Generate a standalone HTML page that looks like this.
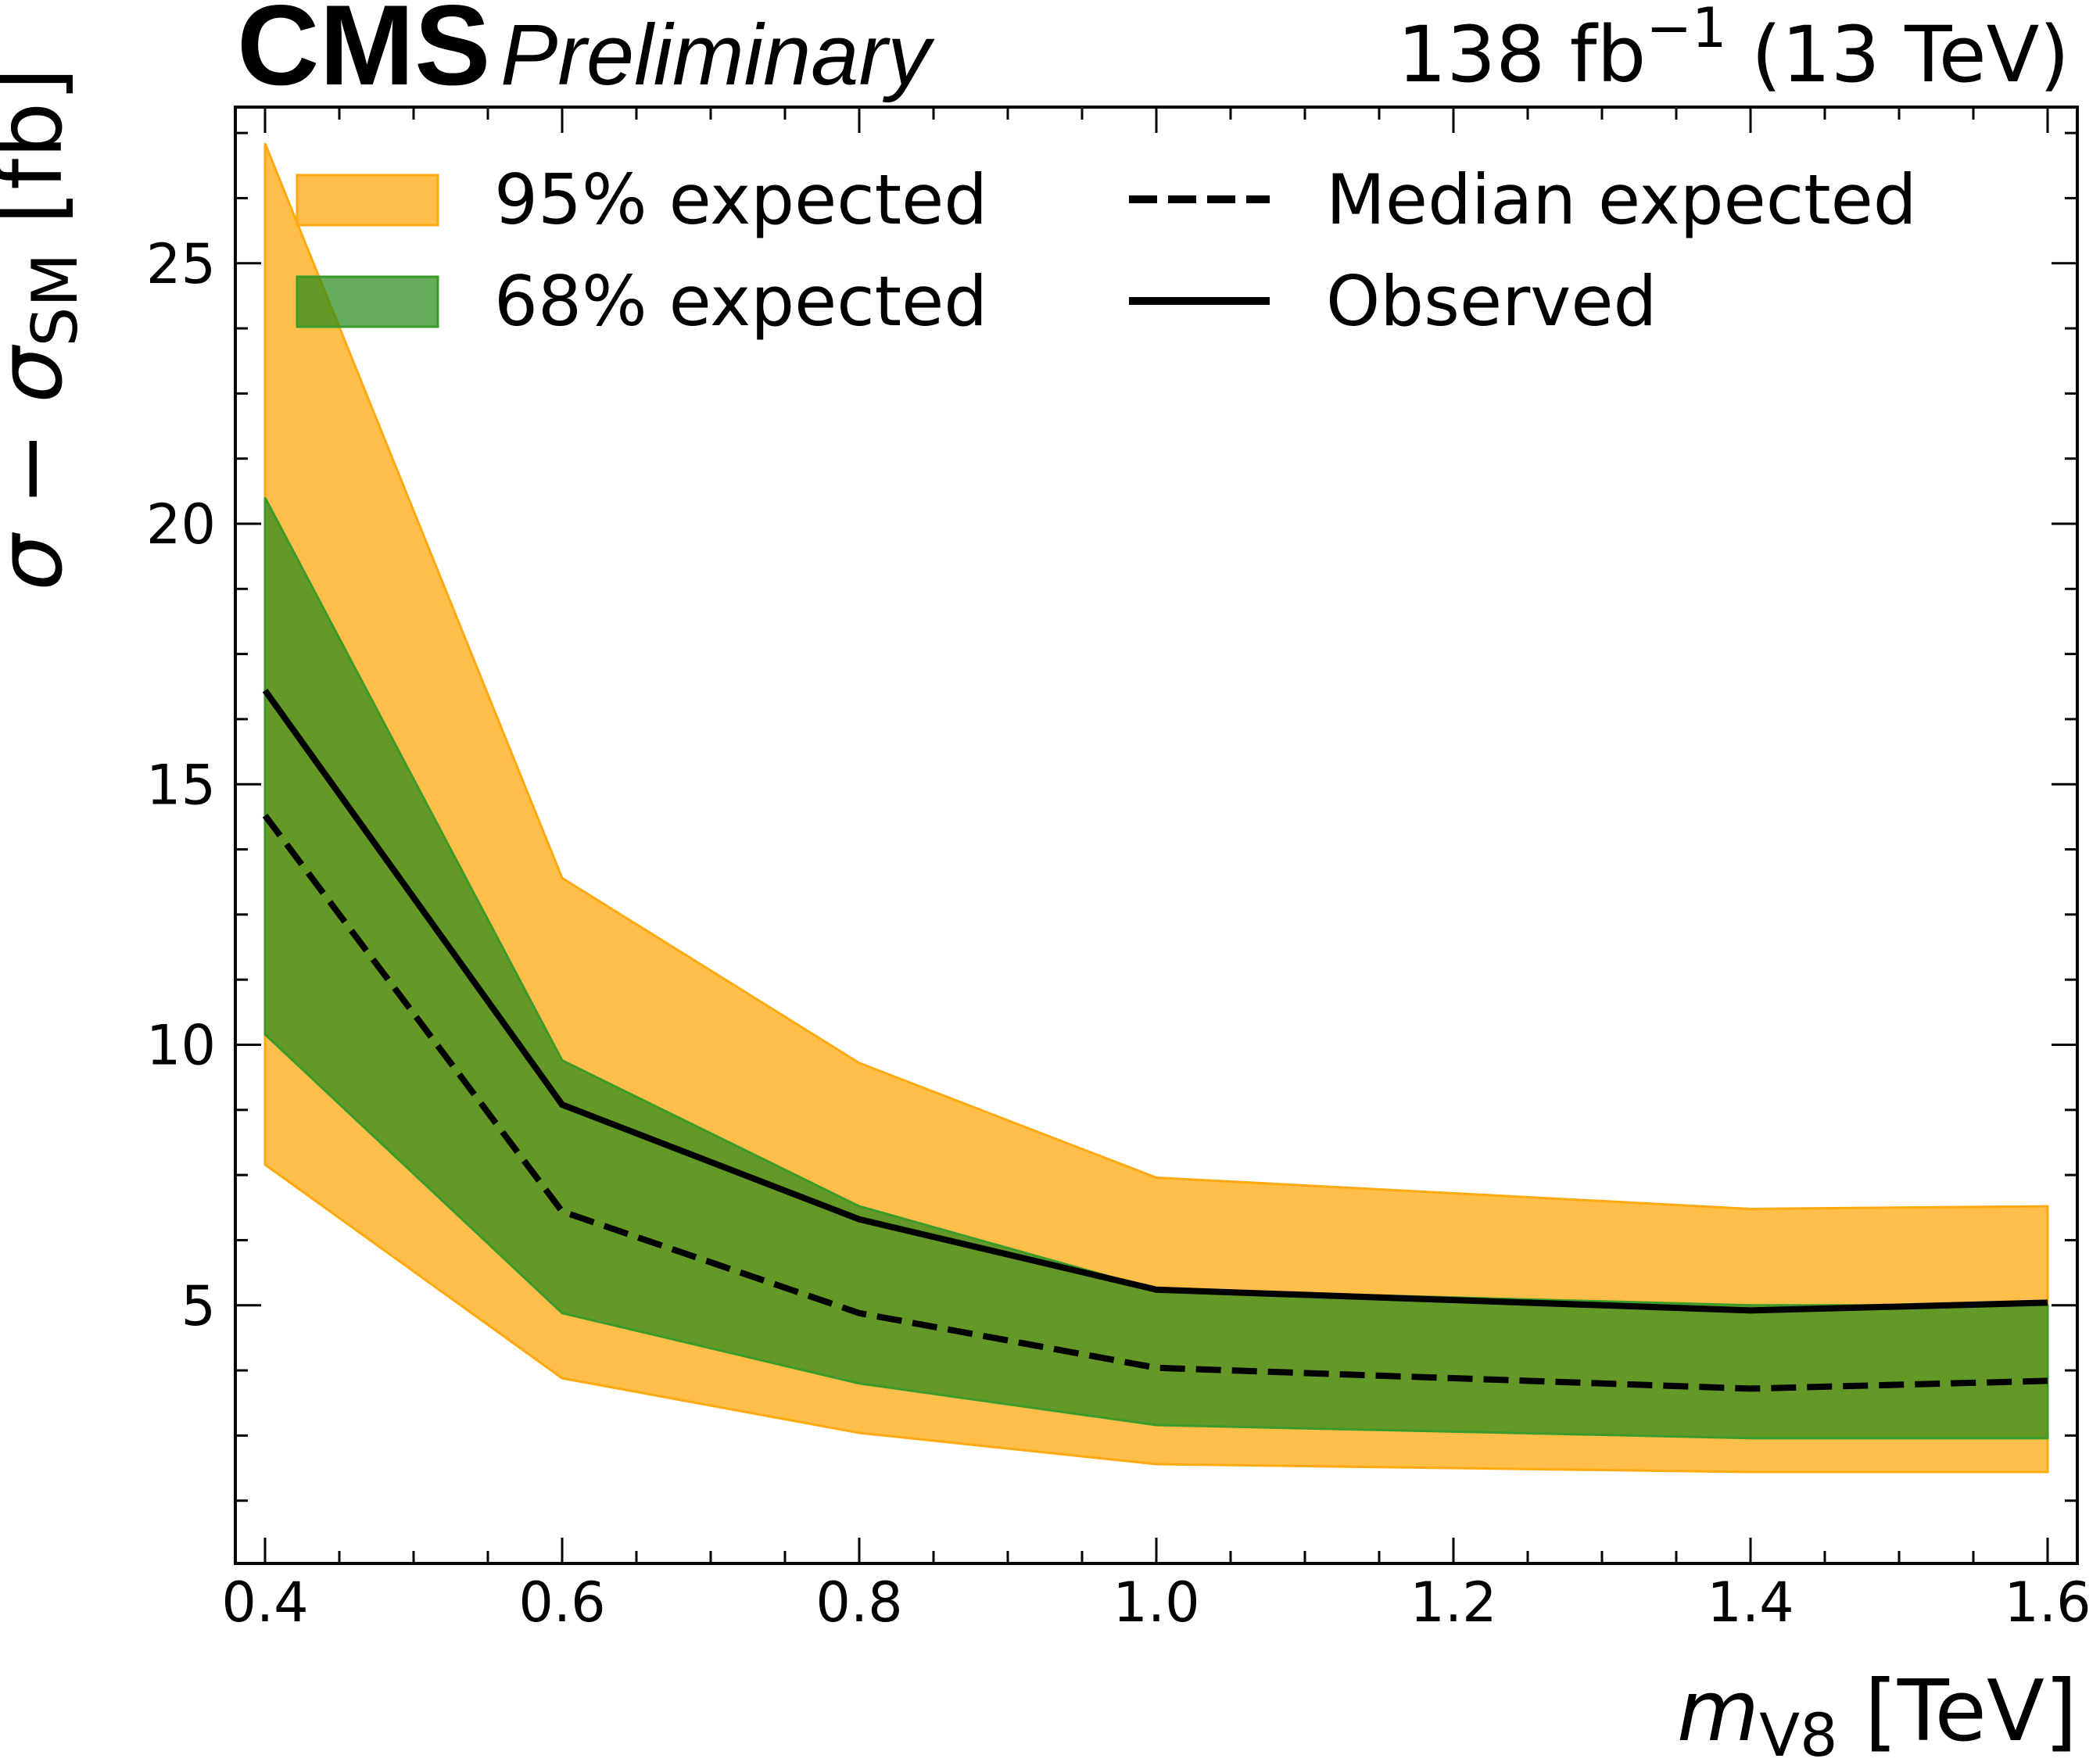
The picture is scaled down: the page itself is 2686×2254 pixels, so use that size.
<!DOCTYPE html>
<html><head><meta charset="utf-8"><style>
html,body{margin:0;padding:0;background:#fff}
svg{display:block}
text{font-family:"DejaVu Sans","Liberation Sans",sans-serif;fill:#000}
</style></head><body>
<svg id="chart" width="2686" height="2254" viewBox="0 0 2686 2254" xmlns="http://www.w3.org/2000/svg">
<g id="bands"></g>
<g id="lines"></g>
<g id="axes"></g>
<text x="303" y="108" style="font-family:'Liberation Sans',sans-serif;font-weight:bold;font-size:146px">CMS</text>
<text x="640" y="108" style="font-family:'Liberation Sans',sans-serif;font-style:italic;font-size:110px">Preliminary</text>
<text x="2647" y="104" text-anchor="end" style="font-size:99px">138 fb<tspan dy="-44" font-size="70px">−1</tspan><tspan dy="44"> (13 TeV)</tspan></text>
<text x="2657" y="2226" text-anchor="end" style="font-size:108px"><tspan font-style="italic">m</tspan><tspan dy="20" font-size="76px">V8</tspan><tspan dy="-20"> [TeV]</tspan></text>
<text transform="translate(78,86) rotate(-90)" text-anchor="end" style="font-size:114px"><tspan font-style="italic">σ</tspan> − <tspan font-style="italic">σ</tspan><tspan dy="20" font-size="80px">SM</tspan><tspan dy="-20"> [fb]</tspan></text>
<g>
<rect x="380" y="224" width="180" height="64" fill="#ffa90e" fill-opacity="0.75" stroke="#ffa90e" stroke-width="3"/>
<text x="632" y="286" style="font-size:88px">95% expected</text>
<rect x="380" y="354" width="180" height="64" fill="#2a8a1a" fill-opacity="0.72" stroke="#3a9a2a" stroke-width="3"/>
<text x="632" y="416" style="font-size:88px">68% expected</text>
<line x1="1444" y1="255" x2="1624" y2="255" stroke="#000" stroke-width="10" stroke-dasharray="36,14"/>
<text x="1696" y="286" style="font-size:88px">Median expected</text>
<line x1="1444" y1="385" x2="1624" y2="385" stroke="#000" stroke-width="10"/>
<text x="1696" y="416" style="font-size:88px">Observed</text>
</g>
</svg>
<script>
const masses = [0.4, 0.6, 0.8, 1.0, 1.4, 1.6];
const up95 = [27.3, 13.2, 9.65, 7.45, 6.85, 6.9];
const down95 = [7.7, 3.6, 2.55, 1.95, 1.8, 1.8];
const up68 = [20.5, 9.7, 6.9, 5.3, 5.0, 5.0];
const down68 = [10.2, 4.85, 3.5, 2.7, 2.45, 2.45];
const median = [14.4, 6.8, 4.85, 3.8, 3.4, 3.55];
const observed = [16.8, 8.85, 6.65, 5.3, 4.9, 5.05];
const xTickLabels = ["0.4","0.6","0.8","1.0","1.2","1.4","1.6"];
const yTickLabels = ["5","10","15","20","25"];

const NS = "http://www.w3.org/2000/svg";
const L = 301, R = 2657, T = 137, B = 2000;
const X0 = 339, X1 = 2619;
function xs(v){ return X0 + (v - 0.4) / 1.2 * (X1 - X0); }
function ys(v){ return 2003 - v * 66.65; }
function mk(tag, attrs, parent){ const e = document.createElementNS(NS, tag); for (const k in attrs) e.setAttribute(k, attrs[k]); parent.appendChild(e); return e; }
const bands = document.getElementById('bands'), lines = document.getElementById('lines'), axes = document.getElementById('axes');

function bandPath(up, dn){
  let d = masses.map((m,i)=>(i?'L':'M')+xs(m)+','+ys(up[i])).join(' ');
  for (let i = masses.length-1; i >= 0; i--) d += ' L'+xs(masses[i])+','+ys(dn[i]);
  return d + ' Z';
}
const b95 = mk('path', {d: bandPath(up95, down95), fill:'#ffa90e', 'fill-opacity':'0.75', stroke:'#ffa90e', 'stroke-width':'3'}, bands);


const b68 = mk('path', {d: bandPath(up68, down68), fill:'#2a8a1a', 'fill-opacity':'0.72', stroke:'#3a9a2a', 'stroke-width':'3'}, bands);



function linePts(arr){ return masses.map((m,i)=>xs(m)+','+ys(arr[i])).join(' '); }
const med = mk('polyline', {points: linePts(median), fill:'none', stroke:'#000', 'stroke-width':'8', 'stroke-dasharray':'32,14'}, lines);


const obs = mk('polyline', {points: linePts(observed), fill:'none', stroke:'#000', 'stroke-width':'8'}, lines);



const frame = mk('rect', {x:L, y:T, width:R-L, height:B-T, fill:'none', stroke:'#000', 'stroke-width':'4'}, axes);



for (let k = 0; k <= 24; k++){
  const v = 0.4 + k*0.05, x = xs(v), len = (k%4===0) ? 33 : 16;
  const t1 = mk('line', {x1:x, y1:B, x2:x, y2:B-len, stroke:'#000', 'stroke-width':'3'}, axes);
  
  
  const t2 = mk('line', {x1:x, y1:T, x2:x, y2:T+len, stroke:'#000', 'stroke-width':'3'}, axes);
  
  
}
xTickLabels.forEach((lab, i)=>{
  const t = mk('text', {x: xs(parseFloat(lab)), y: 2074, 'text-anchor':'middle', 'font-size':'70px'}, axes);
  t.textContent = lab;
  
  
});
for (let k = 1; k*1.25 < 28; k++){
  const v = k*1.25, y = ys(v), len = (k%4===0) ? 33 : 16;
  const t1 = mk('line', {x1:L, y1:y, x2:L+len, y2:y, stroke:'#000', 'stroke-width':'3'}, axes);
  
  
  const t2 = mk('line', {x1:R, y1:y, x2:R-len, y2:y, stroke:'#000', 'stroke-width':'3'}, axes);
  
  
}
yTickLabels.forEach(lab=>{
  const t = mk('text', {x: 276, y: ys(parseFloat(lab)) + 25, 'text-anchor':'end', 'font-size':'70px'}, axes);
  t.textContent = lab;
  
  
});
</script>
</body></html>
